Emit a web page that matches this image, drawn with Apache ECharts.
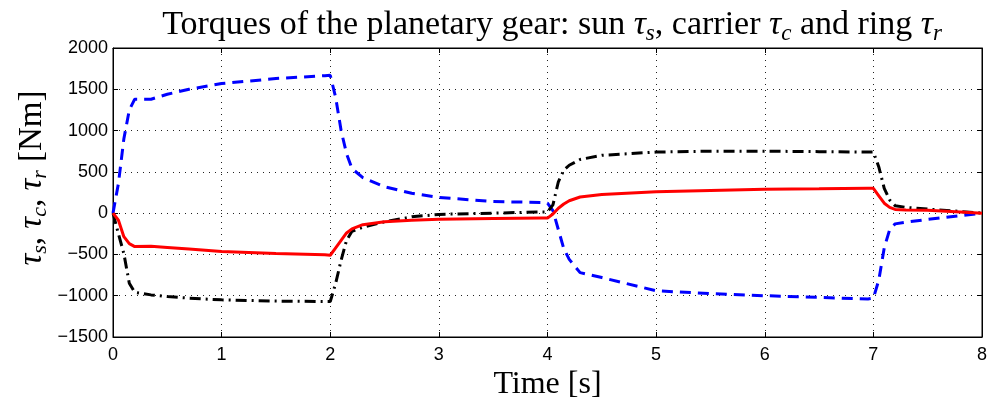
<!DOCTYPE html>
<html>
<head>
<meta charset="utf-8">
<script src="https://cdn.jsdelivr.net/npm/echarts@6/dist/echarts.min.js"></script>
<style>
  html, body { margin: 0; padding: 0; background: #fff; }
  #chart { width: 997px; height: 397px; }
</style>
</head>
<body>
<div id="chart"></div>
<script>
(function () {
    'use strict';

    // time axis [s]
    var timeSec = [0, 0.05, 0.1, 0.15, 0.2, 0.35, 0.5, 0.7, 1.0, 1.5, 1.95, 2.0, 2.05, 2.1, 2.15,
        2.2, 2.3, 2.5, 2.75, 3.0, 3.5, 3.95, 4.0, 4.05, 4.1, 4.15, 4.2, 4.3, 4.5, 5.0, 5.5,
        6.0, 6.5, 6.95, 7.0, 7.05, 7.1, 7.15, 7.2, 7.3, 7.5, 7.8, 8.0];

    // carrier torque (blue dashed) [Nm]
    var carrierTorque = [0, 360, 900, 1250, 1380, 1380, 1440, 1500, 1570, 1630, 1665, 1670, 1400, 1000, 720,
        540, 430, 320, 240, 190, 140, 130, 120, 30, -200, -430, -560, -720, -780, -940, -975,
        -1000, -1020, -1040, -1030, -810, -420, -200, -130, -110, -75, -30, 0];

    // ring torque (black dash-dot) [Nm]
    var ringTorque = [0, -250, -490, -850, -960, -990, -1010, -1030, -1050, -1065, -1070, -1070, -850, -570, -330,
        -220, -170, -105, -45, -15, 0, 15, 15, 100, 380, 520, 580, 650, 700, 740, 750,
        750, 745, 740, 740, 560, 300, 160, 90, 70, 50, 20, 0];

    // sun torque (red solid) [Nm]
    var sunTorque = [0, -85, -285, -370, -405, -400, -415, -435, -465, -490, -505, -510, -420, -330, -240,
        -190, -140, -105, -85, -73, -65, -60, -60, -10, 60, 110, 150, 195, 225, 258, 275,
        290, 295, 300, 300, 210, 120, 70, 45, 38, 35, 15, 0];

    function pairs(vals) {
        return timeSec.map(function (t, i) { return [t, vals[i]]; });
    }

    var serif = '"Liberation Serif", "Times New Roman", serif';
    var sans = '"Liberation Sans", Arial, sans-serif';

    function mathStyles(size) {
        return {
            n: { fontFamily: serif, fontSize: size, fontWeight: 'normal', color: '#000' },
            i: { fontFamily: serif, fontSize: size, fontWeight: 'normal', fontStyle: 'italic', color: '#000' },
            sub: {
                fontFamily: serif, fontSize: Math.round(size * 0.68), fontWeight: 'normal',
                fontStyle: 'italic', color: '#000', padding: [Math.round(size * 0.5), 0, 0, 0]
            }
        };
    }

    var dotted = { color: '#222', width: 1, type: [1, 5] };

    function plain(v) { return String(v).replace('-', '\u2212'); }

    var myChart = echarts.init(document.getElementById('chart'));

    var option = {
        backgroundColor: '#fff',
        animation: false,
        title: {
            text: '{n|Torques of the planetary gear: sun }{i|τ}{sub|s}{n|, carrier }{i|τ}{sub|c}{n| and ring }{i|τ}{sub|r}',
            left: 547,
            top: 0,
            textAlign: 'center',
            textStyle: { fontWeight: 'normal', rich: mathStyles(34) }
        },
        grid: {
            left: 113,
            right: 15,
            top: 48,
            bottom: 60,
            outerBoundsMode: 'none',
            show: true,
            borderColor: '#000',
            borderWidth: 1
        },
        graphic: [{
            type: 'text',
            x: 32,
            y: 178,
            rotation: Math.PI / 2,
            style: {
                text: '{i|τ}{sub|s}{n|, }{i|τ}{sub|c}{n|, }{i|τ}{sub|r}{n| [Nm]}',
                rich: mathStyles(33),
                align: 'center',
                verticalAlign: 'middle'
            }
        }],
        xAxis: [{
            type: 'value',
            min: 0,
            max: 8,
            interval: 1,
            name: 'Time [s]',
            nameLocation: 'middle',
            nameGap: 26,
            nameTextStyle: { fontFamily: serif, fontSize: 32, color: '#000' },
            axisLine: { onZero: false, lineStyle: { color: '#000' } },
            axisTick: { inside: true, length: 5, lineStyle: { color: '#000' } },
            axisLabel: { fontFamily: sans, fontSize: 18, color: '#000', margin: 9 },
            splitLine: { show: true, lineStyle: dotted }
        }, {
            type: 'value',
            position: 'top',
            min: 0,
            max: 8,
            interval: 1,
            axisLine: { onZero: false, lineStyle: { color: '#000' } },
            axisTick: { inside: true, length: 5, lineStyle: { color: '#000' } },
            axisLabel: { show: false },
            splitLine: { show: false }
        }],
        yAxis: [{
            type: 'value',
            min: -1500,
            max: 2000,
            interval: 500,
            axisLine: { show: true, onZero: false, lineStyle: { color: '#000' } },
            axisTick: { show: true, inside: true, length: 5, lineStyle: { color: '#000' } },
            axisLabel: { fontFamily: sans, fontSize: 18, color: '#000', margin: 5, formatter: plain },
            splitLine: { show: true, lineStyle: dotted }
        }, {
            type: 'value',
            position: 'right',
            min: -1500,
            max: 2000,
            interval: 500,
            axisLine: { show: true, onZero: false, lineStyle: { color: '#000' } },
            axisTick: { show: true, inside: true, length: 5, lineStyle: { color: '#000' } },
            axisLabel: { show: false },
            splitLine: { show: false }
        }],
        series: [{
            name: 'carrier',
            type: 'line',
            showSymbol: false,
            data: pairs(carrierTorque),
            lineStyle: { color: '#0000ff', width: 3, type: [11, 7] },
            z: 3
        }, {
            name: 'ring',
            type: 'line',
            showSymbol: false,
            data: pairs(ringTorque),
            lineStyle: { color: '#000', width: 3, type: [11, 5, 2, 5] },
            z: 4
        }, {
            name: 'sun',
            type: 'line',
            showSymbol: false,
            data: pairs(sunTorque),
            lineStyle: { color: '#ff0000', width: 3 },
            z: 5
        }]
    };

    myChart.setOption(option);
    window.addEventListener('resize', function () {
        myChart.resize();
    });
})();
</script>
</body>
</html>
